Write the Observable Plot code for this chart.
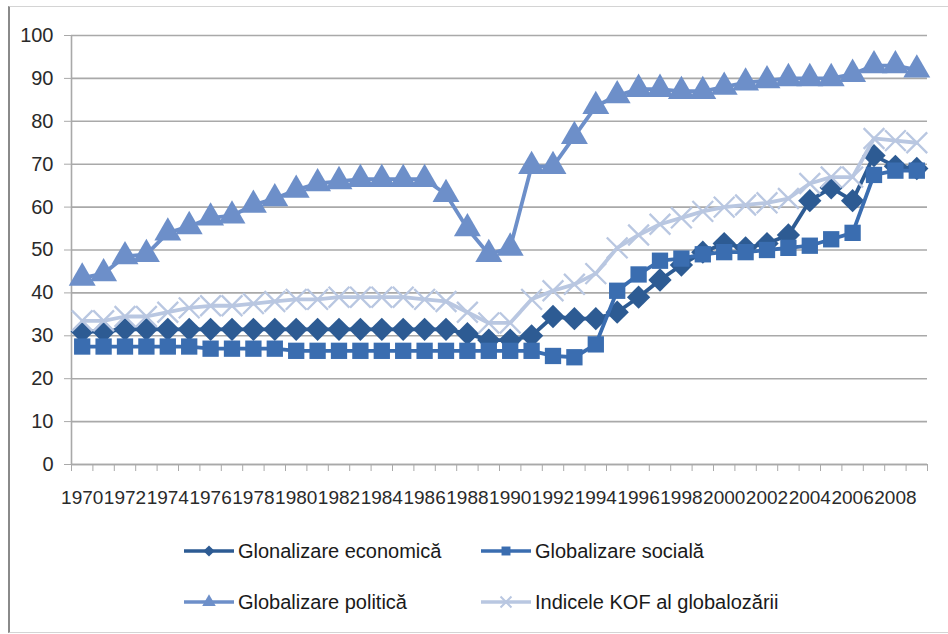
<!DOCTYPE html>
<html>
<head>
<meta charset="utf-8">
<script src="https://cdn.jsdelivr.net/npm/d3@7"></script>
<script src="https://cdn.jsdelivr.net/npm/@observablehq/plot@0.6"></script>
<style>
  html, body { margin: 0; padding: 0; background: #fff; }
  #wrap { position: relative; width: 948px; height: 634px; overflow: hidden; background: #fff; }
  #frame { position: absolute; left: 8px; top: 6px; width: 960px; height: 625px;
           border-left: 2px solid #8a8a8a; border-top: 1px solid #d4d4d4; border-bottom: 1px solid #d4d4d4; }
  #chart { position: absolute; left: 0; top: 0; }
  .leg { position: absolute; display: flex; align-items: center;
         font-family: "Liberation Sans", Arial, sans-serif;
         font-size: 20px; color: #1a1a1a; white-space: nowrap; }
  .leg svg { margin-right: 3px; }
</style>
</head>
<body>
<div id="wrap">
  <div id="frame"></div>
  <div id="chart"></div>
  <div id="legend"></div>
</div>
<script>
const years = d3.range(1970, 2010);
const yTicks = [0, 10, 20, 30, 40, 50, 60, 70, 80, 90, 100];
const xLabelYears = [1970,1972,1974,1976,1978,1980,1982,1984,1986,1988,1990,1992,1994,1996,1998,2000,2002,2004,2006,2008];

const seriesNames = ["Glonalizare economică", "Globalizare socială", "Globalizare politică", "Indicele KOF al globalozării"];
const seriesColors = ["#2d5b93", "#3a6db0", "#6d8fc9", "#b9c7e1"];
const seriesSymbols = ["diamond2", "square", "triangle", "times"];

const economic = [31, 31, 31.5, 31.5, 31.5, 31.5, 31.5, 31.5, 31.5, 31.5,
                  31.5, 31.5, 31.5, 31.5, 31.5, 31.5, 31.5, 31.5, 30.5, 29,
                  29, 30, 34.5, 34, 34, 35.5, 39, 43, 46.5, 49.5,
                  51.5, 50.5, 51.5, 53.5, 61.5, 64.5, 61.5, 72, 69.5, 69];
const social = [27.5, 27.5, 27.5, 27.5, 27.5, 27.5, 27, 27, 27, 27,
                26.5, 26.5, 26.5, 26.5, 26.5, 26.5, 26.5, 26.5, 26.5, 26.5,
                26.5, 26.5, 25.3, 25, 28, 40.5, 44.3, 47.5, 48, 49,
                49.5, 49.5, 50, 50.5, 51, 52.5, 54, 67.5, 68.5, 68.5];
const political = [43.5, 44.5, 48.5, 49, 54, 55.5, 57.5, 58, 60.5, 62,
                   64, 65.5, 66, 66.5, 66.5, 66.5, 66.5, 63, 55, 49,
                   50.5, 69.5, 69.5, 76.5, 83.5, 86, 87.5, 87.5, 87, 87,
                   88, 89, 89.5, 90, 90, 90, 91, 93, 93, 92];
const kof = [33.5, 33.5, 34.5, 34.5, 35.5, 36.5, 37, 37, 37.5, 38,
             38.5, 38.5, 39, 39, 39, 39, 38.5, 38, 35.5, 33,
             33, 38.5, 40.5, 42, 44.5, 50.5, 53.5, 56, 57.5, 59,
             60, 60.5, 61, 62, 65.5, 67, 67, 76, 75.5, 75];

const allSeries = [economic, social, political, kof];
const data = [];
allSeries.forEach((vals, si) => vals.forEach((v, i) => data.push({series: seriesNames[si], year: years[i], value: v})));

const boundaries = years.map(y => y - 0.5).concat([years[years.length - 1] + 0.5]);
const fontFam = '"Liberation Sans", Arial, sans-serif';
const gridColor = "#a9a9a9";

const seriesMarks = [];
seriesNames.forEach((name, si) => {
  const d = data.filter(r => r.series === name);
  seriesMarks.push(Plot.line(d, {x: "year", y: "value", stroke: seriesColors[si], strokeWidth: 3.8}));
  const sym = seriesSymbols[si];
  const r = sym === "diamond2" ? 10.5 : sym === "square" ? 9.2 : sym === "triangle" ? 10 : 9.5;
  if (sym === "times") {
    seriesMarks.push(Plot.dot(d, {x: "year", y: "value", symbol: sym, r: r, stroke: seriesColors[si], strokeWidth: 2.3, fill: "none"}));
  } else {
    seriesMarks.push(Plot.dot(d, {x: "year", y: "value", symbol: sym, r: r, fill: seriesColors[si], stroke: "none"}));
  }
});

const chart = Plot.plot({
  width: 948,
  height: 510,
  marginLeft: 71,
  marginRight: 21,
  marginTop: 35,
  marginBottom: 46,
  style: {fontFamily: fontFam, color: "#2a2a2a", background: "transparent"},
  x: {domain: [boundaries[0], boundaries[boundaries.length - 1]]},
  y: {domain: [0, 100]},
  marks: [
    Plot.gridY(yTicks, {stroke: gridColor, strokeOpacity: 1, strokeWidth: 1.6}),
    Plot.axisY(yTicks, {tickSize: 7, tickPadding: 11, stroke: gridColor, fontSize: 20, label: null, tickFormat: d => String(d)}),
    Plot.ruleX([boundaries[0]], {stroke: gridColor, strokeWidth: 1.6}),
    Plot.ruleY([0], {stroke: gridColor, strokeWidth: 1.6}),
    Plot.axisX(boundaries, {tickSize: 7, stroke: gridColor, tickFormat: () => "", label: null}),
    Plot.axisX(xLabelYears, {tickSize: 0, tickPadding: 26, fontSize: 19, label: null, tickFormat: d => String(d)}),
    ...seriesMarks
  ]
});
document.getElementById("chart").appendChild(chart);

// Legend
const legend = document.getElementById("legend");
const legPos = [[183, 551], [480, 551], [183, 602], [480, 602]];
seriesNames.forEach((name, si) => {
  const item = document.createElement("div");
  item.className = "leg";
  item.style.left = legPos[si][0] + "px";
  item.style.top = (legPos[si][1] - 16) + "px";
  item.style.height = "32px";
  const sw = d3.create("svg").attr("width", 52).attr("height", 24);
  sw.append("line").attr("x1", 1).attr("x2", 51).attr("y1", 12).attr("y2", 12)
    .attr("stroke", seriesColors[si]).attr("stroke-width", 3.5);
  const symMap = {diamond2: d3.symbolDiamond2, square: d3.symbolSquare, triangle: d3.symbolTriangle, times: d3.symbolTimes};
  const g = sw.append("path").attr("transform", "translate(26,12)")
    .attr("d", d3.symbol(symMap[seriesSymbols[si]], 80)());
  if (seriesSymbols[si] === "times") g.attr("fill", "none").attr("stroke", seriesColors[si]).attr("stroke-width", 2);
  else g.attr("fill", seriesColors[si]);
  item.appendChild(sw.node());
  const span = document.createElement("span");
  span.textContent = name;
  item.appendChild(span);
  legend.appendChild(item);
});
</script>
</body>
</html>
